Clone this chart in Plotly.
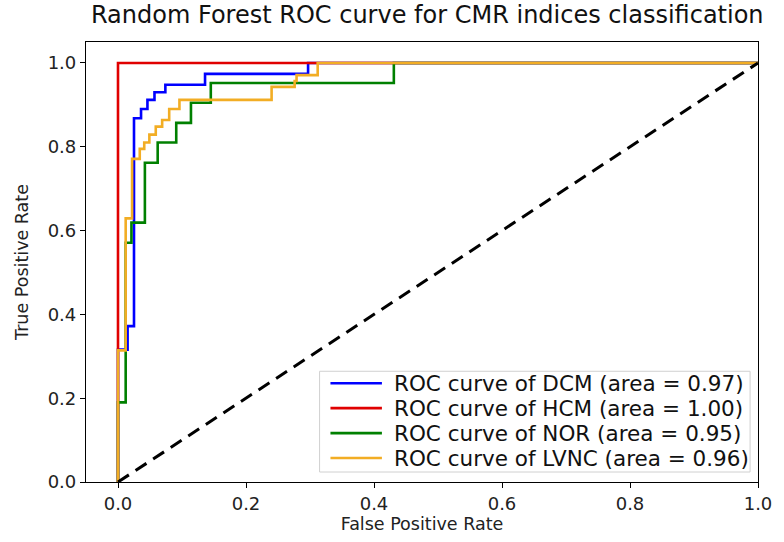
import plotly.graph_objects as go

# ROC curve points (false positive rate, true positive rate) per class
dcm_fpr = [0, 0, 0.015, 0.015, 0.025, 0.025, 0.036, 0.036, 0.046, 0.046, 0.057, 0.057,
           0.074, 0.074, 0.136, 0.136, 0.297, 0.297, 1.0]
dcm_tpr = [0, 0.316, 0.316, 0.372, 0.372, 0.868, 0.868, 0.89, 0.89, 0.912, 0.912, 0.93,
           0.93, 0.948, 0.948, 0.974, 0.974, 1.0, 1.0]

hcm_fpr = [0, 0, 1.0]
hcm_tpr = [0, 1.0, 1.0]

nor_fpr = [0, 0, 0.012, 0.012, 0.021, 0.021, 0.042, 0.042, 0.062, 0.062, 0.091, 0.091,
           0.114, 0.114, 0.145, 0.145, 0.431, 0.431, 1.0]
nor_tpr = [0, 0.19, 0.19, 0.571, 0.571, 0.619, 0.619, 0.762, 0.762, 0.81, 0.81, 0.857,
           0.857, 0.905, 0.905, 0.952, 0.952, 1.0, 1.0]

lvnc_fpr = [0, 0, 0.012, 0.012, 0.022, 0.022, 0.034, 0.034, 0.041, 0.041, 0.049, 0.049,
            0.059, 0.059, 0.069, 0.069, 0.08, 0.08, 0.096, 0.096, 0.24, 0.24, 0.276, 0.276,
            0.279, 0.279, 0.312, 0.312, 1.0]
lvnc_tpr = [0, 0.314, 0.314, 0.629, 0.629, 0.771, 0.771, 0.795, 0.795, 0.81, 0.81, 0.829,
            0.829, 0.848, 0.848, 0.864, 0.864, 0.89, 0.89, 0.912, 0.912, 0.943, 0.943, 0.957,
            0.957, 0.971, 0.971, 1.0, 1.0]

class_names = ["DCM", "HCM", "NOR", "LVNC"]
class_auc = [0.97, 1.00, 0.95, 0.96]
class_colors = ["#0000ff", "#e00000", "#008000", "#f2ad24"]

curves = [(dcm_fpr, dcm_tpr), (hcm_fpr, hcm_tpr), (nor_fpr, nor_tpr), (lvnc_fpr, lvnc_tpr)]

FONT = "DejaVu Sans"
W, H = 784, 542
ML, MR, MT, MB = 86, 19, 42, 59
PW, PH = W - ML - MR, H - MT - MB


def px_to_paper(px, py):
    """Convert page pixel position to paper coordinates of the plot area."""
    return (px - ML) / PW, (H - MB - py) / PH


fig = go.Figure()

for (fpr, tpr), name, color in zip(curves, class_names, class_colors):
    fig.add_trace(go.Scatter(
        x=fpr, y=tpr, mode="lines",
        line=dict(color=color, width=2.6),
        name=name, showlegend=False,
    ))

# chance diagonal
fig.add_trace(go.Scatter(
    x=[0, 1], y=[0, 1], mode="lines",
    line=dict(color="black", width=3, dash="13px,8px"),
    showlegend=False,
))

# legend box drawn in the lower-right corner of the axes
shapes = []
annotations = []
bx0, by0 = px_to_paper(322, 473)
bx1, by1 = px_to_paper(757, 372)
shapes.append(dict(type="rect", xref="paper", yref="paper",
                   x0=bx0, y0=by0, x1=bx1, y1=by1,
                   line=dict(color="#d0d0d0", width=1),
                   fillcolor="rgba(255,255,255,0.85)", layer="above"))
row_y = [384, 409, 434, 459]
for name, auc, color, ry in zip(class_names, class_auc, class_colors, row_y):
    lx0, ly = px_to_paper(333, ry)
    lx1, _ = px_to_paper(385, ry)
    tx, _ = px_to_paper(395, ry)
    shapes.append(dict(type="line", xref="paper", yref="paper",
                       x0=lx0, y0=ly, x1=lx1, y1=ly,
                       line=dict(color=color, width=2.6), layer="above"))
    annotations.append(dict(
        xref="paper", yref="paper", x=tx, y=ly, xanchor="left", yanchor="middle",
        text=f"ROC curve of {name} (area = {auc:.2f})", showarrow=False,
        font=dict(family=FONT, size=21.5, color="#111111"),
    ))

axis_common = dict(
    showgrid=False, zeroline=False,
    showline=True, linecolor="black", linewidth=1.2, mirror=True,
    ticks="outside", ticklen=5, tickwidth=1.2, tickcolor="black",
    tickfont=dict(family=FONT, size=18, color="#222222"),
    tickformat=".1f", dtick=0.2, tick0=0,
)

fig.update_layout(
    width=W, height=H,
    paper_bgcolor="white", plot_bgcolor="white",
    margin=dict(l=ML, r=MR, t=MT, b=MB),
    title=dict(
        text="Random Forest ROC curve for CMR indices classification",
        font=dict(family=FONT, size=24, color="#111111"),
        x=0.545, xanchor="center", y=0.988, yanchor="top",
    ),
    xaxis=dict(range=[-0.05, 1.0], title=dict(text="False Positive Rate",
               font=dict(family=FONT, size=17.5, color="#222222"), standoff=4),
               **axis_common),
    yaxis=dict(range=[0, 1.05], title=dict(text="True Positive Rate",
               font=dict(family=FONT, size=17.5, color="#222222"), standoff=14),
               **axis_common),
    shapes=shapes,
    annotations=annotations,
    showlegend=False,
)

fig.write_html("out.html")
